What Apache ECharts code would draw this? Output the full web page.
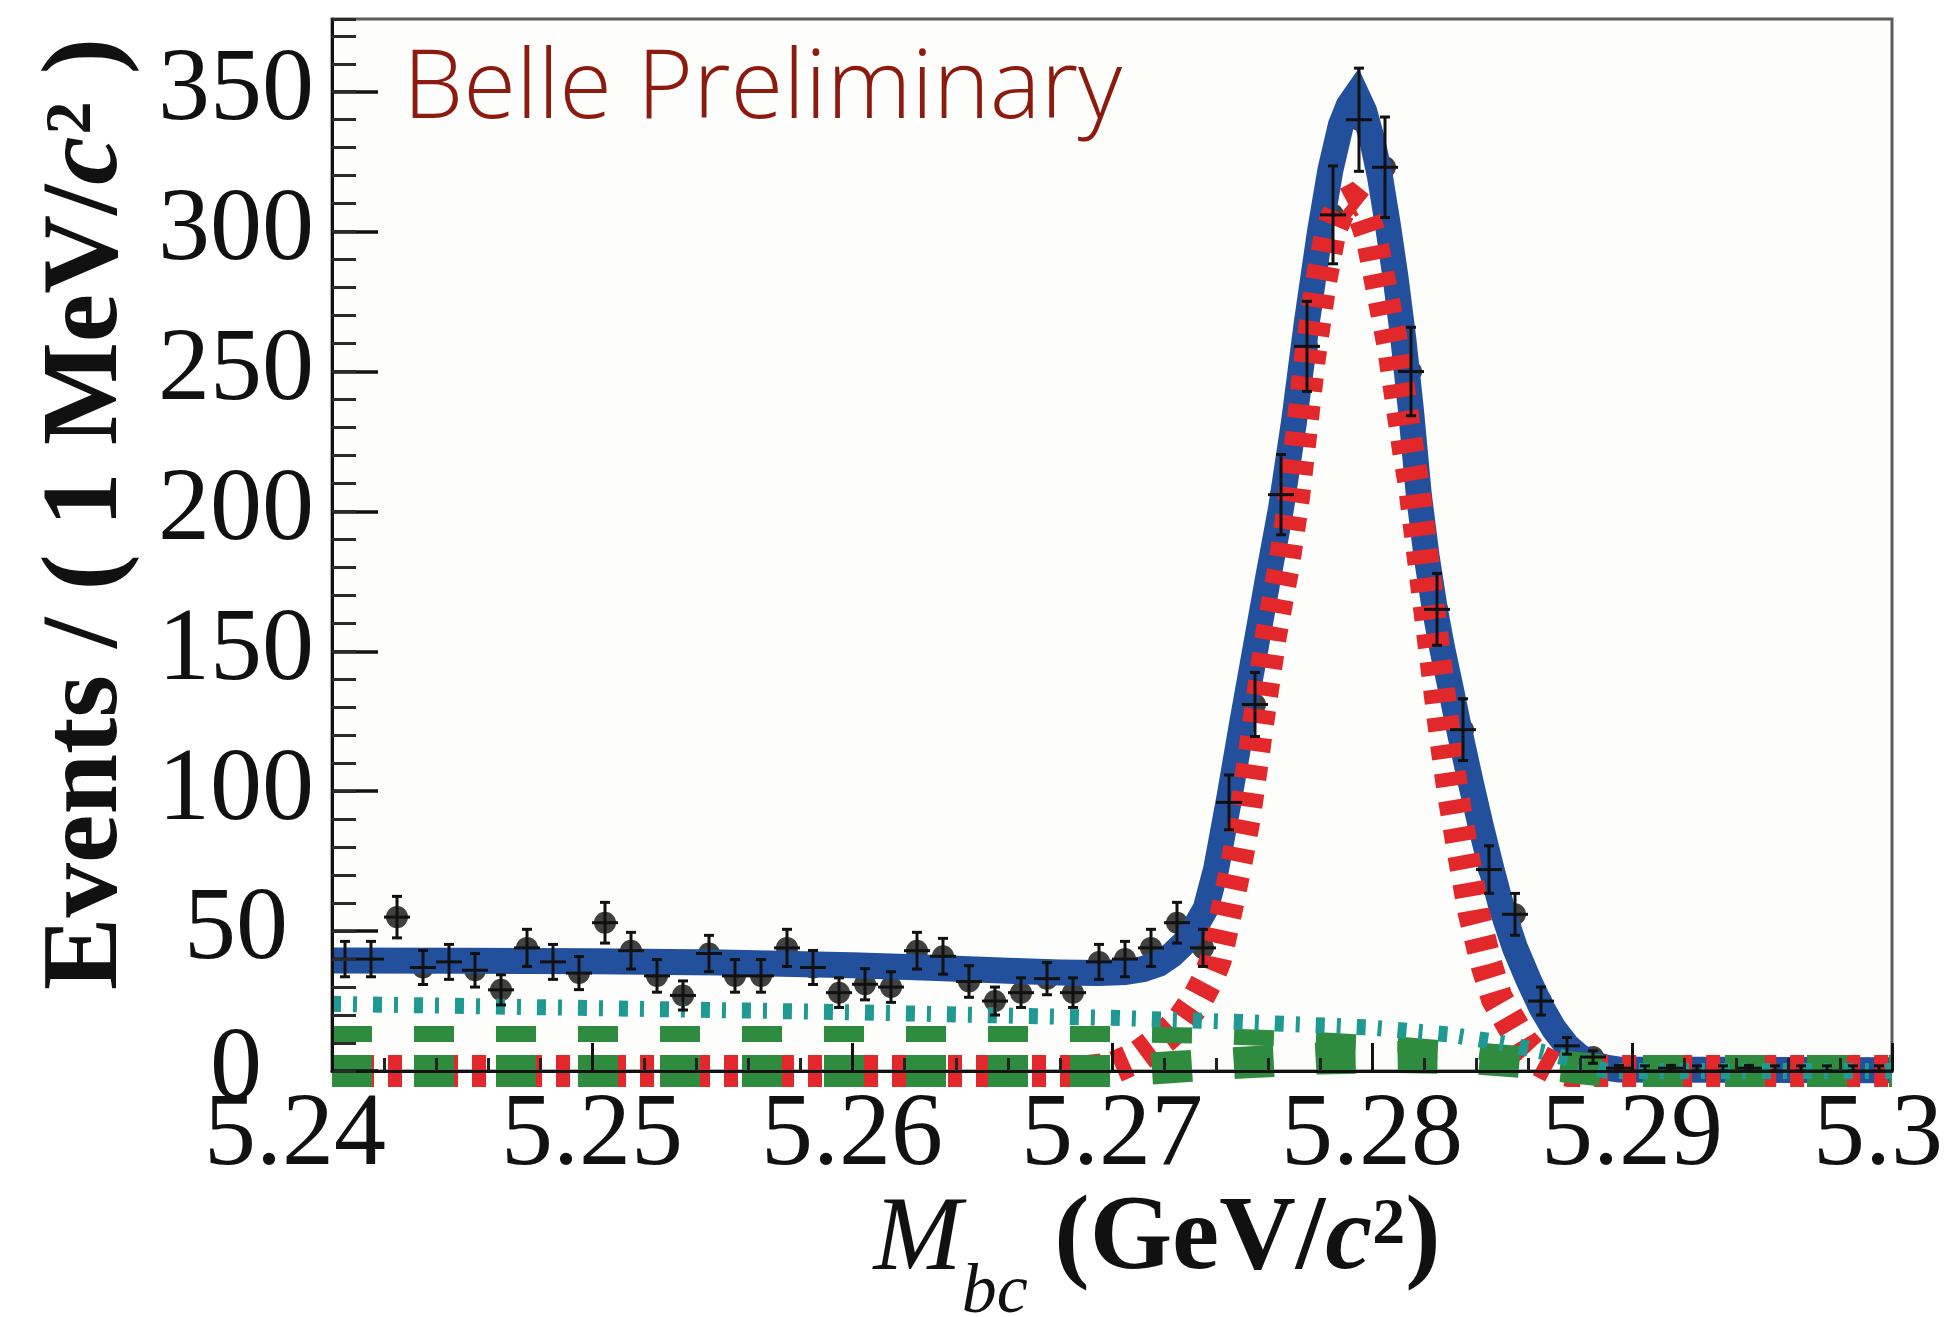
<!DOCTYPE html>
<html>
<head>
<meta charset="utf-8">
<title>M_bc distribution with fit</title>
<script src="https://cdn.jsdelivr.net/npm/echarts@6/dist/echarts.min.js"></script>
<style>
  html, body { margin: 0; padding: 0; background: #ffffff; }
  #chart { width: 1950px; height: 1317px; }
</style>
</head>
<body>
<div id="chart"></div>
<script>
// ---- data ----------------------------------------------------------
// 1 MeV/c^2 bins from 5.24 to 5.30 GeV/c^2 (bin centres)
const binCentres = [
  5.2405, 5.2415, 5.2425, 5.2435, 5.2445, 5.2455, 5.2465, 5.2475, 5.2485, 5.2495,
  5.2505, 5.2515, 5.2525, 5.2535, 5.2545, 5.2555, 5.2565, 5.2575, 5.2585, 5.2595,
  5.2605, 5.2615, 5.2625, 5.2635, 5.2645, 5.2655, 5.2665, 5.2675, 5.2685, 5.2695,
  5.2705, 5.2715, 5.2725, 5.2735, 5.2745, 5.2755, 5.2765, 5.2775, 5.2785, 5.2795,
  5.2805, 5.2815, 5.2825, 5.2835, 5.2845, 5.2855, 5.2865, 5.2875, 5.2885, 5.2895,
  5.2905, 5.2915, 5.2925, 5.2935, 5.2945, 5.2955, 5.2965, 5.2975, 5.2985, 5.2995
];
const binHalfWidth = 0.0005;

// events per bin
const eventCounts = [
  40, 40, 55, 37, 39, 36, 29, 44, 39, 35,
  53, 43, 34, 27, 42, 34, 34, 44, 37, 28,
  31, 30, 43, 41, 32, 25, 28, 33, 28, 39,
  40, 44, 53, 44, 96, 131, 206, 259, 306, 340,
  323, 250, 165, 122, 72, 56, 25, 9, 5, 1,
  0, 1, 0, 0, 1, 0, 0, 0, 0, 0
];

const xTickLabels = ['5.24', '5.25', '5.26', '5.27', '5.28', '5.29', '5.3'];
const yTickLabels = ['0', '50', '100', '150', '200', '250', '300', '350'];

// total fit, [M_bc, events]
const totalFit = [
  [5.2400, 39.5], [5.2450, 39.4], [5.2500, 39.2], [5.2550, 38.8], [5.2600, 37.8],
  [5.2630, 36.9], [5.2660, 35.8], [5.2680, 35.2], [5.2695, 35.0], [5.2705, 35.4],
  [5.2712, 36.4], [5.2718, 38.3], [5.2723, 41.5], [5.2728, 46], [5.2732, 51.5],
  [5.2736, 58], [5.2740, 72], [5.2745, 97], [5.2750, 124], [5.2755, 150],
  [5.2760, 176], [5.2765, 201], [5.2770, 232], [5.2775, 268], [5.2780, 300],
  [5.2784, 322], [5.2788, 338], [5.2791, 345], [5.2794, 349], [5.2797, 343],
  [5.2800, 333], [5.2803, 320], [5.2806, 303], [5.2809, 284], [5.2812, 262],
  [5.2815, 236], [5.2818, 206], [5.2821, 184], [5.2824, 166], [5.2827, 151],
  [5.2830, 138], [5.2834, 120], [5.2838, 103], [5.2842, 87], [5.2846, 72],
  [5.2850, 58], [5.2855, 44], [5.2860, 33], [5.2865, 23], [5.2870, 15],
  [5.2875, 9], [5.2880, 5], [5.2885, 2.5], [5.2890, 1.2], [5.2895, 0.5], [5.3000, 0.3]
];

// signal component
const signalFit = [
  [5.2400, 0], [5.2690, 0], [5.2700, 1], [5.2710, 5], [5.2720, 12],
  [5.2727, 18], [5.2733, 26], [5.2737, 33], [5.2740, 40], [5.2744, 57],
  [5.2748, 75], [5.2751, 90], [5.2756, 123], [5.2761, 155], [5.2766, 180],
  [5.2770, 205], [5.2776, 254], [5.2780, 280], [5.2784, 300], [5.2788, 309],
  [5.2792, 311], [5.2796, 308], [5.2800, 297], [5.2804, 278], [5.2808, 259],
  [5.2811, 240], [5.2814, 221], [5.2816, 210], [5.2820, 180], [5.2824, 150],
  [5.2828, 120], [5.2831, 100], [5.2835, 78], [5.2839, 57], [5.2844, 38],
  [5.2848, 26], [5.2853, 18], [5.2858, 10], [5.2864, 4], [5.2870, 1],
  [5.2876, 0], [5.3000, 0]
];

// continuum background component
const continuumBkg = [
  [5.2400, 24], [5.2500, 22.5], [5.2600, 21], [5.2700, 19], [5.2750, 17.5],
  [5.2800, 15.5], [5.2830, 13], [5.2850, 10], [5.2865, 7], [5.2877, 4],
  [5.2885, 1.5], [5.2890, 0], [5.3000, 0]
];

// B-Bbar background components
const bbBkgUpper = [
  [5.2400, 13.2], [5.2700, 13.2], [5.2740, 12.5], [5.2780, 11], [5.2810, 9.5],
  [5.2840, 7], [5.2860, 4.5], [5.2875, 2], [5.2885, 0.5], [5.2890, 0], [5.3000, 0]
];
const bbBkgLower = [
  [5.2400, 0], [5.2700, 0], [5.2725, 1.5], [5.2750, 3], [5.2780, 4.5],
  [5.2810, 5], [5.2840, 4.5], [5.2860, 3], [5.2875, 1.5], [5.2890, 0], [5.3000, 0]
];

// ---- chart ---------------------------------------------------------
const serif = "'Liberation Serif', 'Times New Roman', 'DejaVu Serif', serif";
const chart = echarts.init(document.getElementById('chart'), null, { renderer: 'canvas' });

const pointData = binCentres.map((m, i) => [m, eventCounts[i]]);
const errorData = binCentres.map((m, i) => {
  const n = eventCounts[i];
  const lo = n > 0 ? n - Math.sqrt(n) : 0;
  const hi = n > 0 ? n + Math.sqrt(n) : 1.84;
  return [m, n, lo, hi];
});

function curve(name, data, color, width, dash, z) {
  return {
    name, type: 'line', data, z,
    showSymbol: false, symbol: 'none', smooth: false, clip: false,
    silent: true, animation: false,
    lineStyle: { color, width, type: dash || 'solid', cap: 'butt', join: 'miter', miterLimit: 20 }
  };
}

const labelFont = { fontFamily: serif, fontSize: 104, color: '#111' };

const option = {
  backgroundColor: '#ffffff',
  animation: false,
  grid: {
    left: 332, top: 19, right: 58, bottom: 246,
    containLabel: false, outerBoundsMode: 'none',
    show: true, backgroundColor: '#fdfdfb', borderColor: '#5c5c5c', borderWidth: 3
  },
  xAxis: {
    type: 'value', min: 5.24, max: 5.30, interval: 0.01, z: 8,
    axisLine: { show: true, onZero: false, lineStyle: { color: '#111', width: 3 } },
    axisTick: { show: true, inside: true, length: 28, lineStyle: { color: '#111', width: 3 } },
    minorTick: { show: true, splitNumber: 5, length: 13, lineStyle: { color: '#222', width: 3 } },
    splitLine: { show: false },
    axisLabel: {
      show: true, margin: 14, color: '#111', fontFamily: serif, fontSize: 104,
      formatter: v => {
        const i = Math.round((v - 5.24) / 0.01);
        if (i === 0) return '{first|' + xTickLabels[i] + '}';
        if (i === xTickLabels.length - 1) return '{last|' + xTickLabels[i] + '}';
        return xTickLabels[i];
      },
      rich: {
        first: Object.assign({ padding: [0, 74, 0, 0] }, labelFont),
        last: Object.assign({ padding: [0, 28, 0, 0] }, labelFont)
      }
    }
  },
  yAxis: [
    {
      type: 'value', min: 0, max: 376, interval: 50, position: 'left', z: 8,
      axisLine: { show: true, onZero: false, lineStyle: { color: '#111', width: 3 } },
      axisTick: { show: true, inside: true, length: 46, lineStyle: { color: '#111', width: 3.5 } },
      splitLine: { show: false },
      axisLabel: {
        show: true, margin: 96, align: 'center', color: '#111', fontFamily: serif, fontSize: 104,
        showMaxLabel: false,
        formatter: v => yTickLabels[Math.round(v / 50)]
      }
    },
    {
      type: 'value', min: 0, max: 376, interval: 10, position: 'left', z: 8,
      axisLine: { show: false },
      axisTick: { show: true, inside: true, length: 24, lineStyle: { color: '#2a2a2a', width: 3 } },
      splitLine: { show: false },
      axisLabel: { show: false }
    }
  ],
  series: [
    {
      name: 'data', type: 'scatter', data: pointData, z: 1,
      symbol: 'circle', symbolSize: 22, silent: true,
      itemStyle: { color: '#111' }
    },
    curve('total', totalFit, '#22509d', 26, 'solid', 2),
    curve('signal', signalFit, '#e2282b', 32, [14, 14], 3),
    curve('bb-lower', bbBkgLower, '#2f8c3e', 32, [40, 42], 4),
    curve('bb-upper', bbBkgUpper, '#2f8c3e', 16, [40, 42], 4),
    curve('continuum', continuumBkg, '#1f9a92', 16, [9, 12, 4, 16], 5),
    {
      name: 'errors', type: 'custom', data: errorData, z: 6, silent: true,
      encode: { x: 0, y: 1 },
      renderItem: function (params, api) {
        const m = api.value(0), n = api.value(1), lo = api.value(2), hi = api.value(3);
        const c = api.coord([m, n]);
        const l = api.coord([m - binHalfWidth, n]);
        const r = api.coord([m + binHalfWidth, n]);
        const t = api.coord([m, hi]);
        const b = api.coord([m, lo]);
        const cap = 5;
        const style = { stroke: '#111', lineWidth: 3, fill: null };
        return {
          type: 'group',
          children: [
            { type: 'line', shape: { x1: l[0], y1: c[1], x2: r[0], y2: c[1] }, style },
            { type: 'line', shape: { x1: c[0], y1: t[1], x2: c[0], y2: b[1] }, style },
            { type: 'line', shape: { x1: c[0] - cap, y1: t[1], x2: c[0] + cap, y2: t[1] }, style },
            { type: 'line', shape: { x1: c[0] - cap, y1: b[1], x2: c[0] + cap, y2: b[1] }, style }
          ]
        };
      }
    }
  ],
  graphic: [
    {
      type: 'text', z: 20, x: 403, y: 91,
      style: {
        text: 'Belle Preliminary',
        fill: '#8c1a0f', fontFamily: "'Open Sans', 'Noto Sans', sans-serif",
        fontWeight: 300, fontSize: 96,
        align: 'left', verticalAlign: 'middle', textAlign: 'left', textVerticalAlign: 'middle'
      }
    },
    {
      type: 'text', z: 20, x: 88, y: 514, rotation: Math.PI / 2,
      style: {
        text: '{b|Events / ( 1 MeV/}{bi|c}{sup|2}{b| )}',
        fill: '#111',
        align: 'center', verticalAlign: 'middle', textAlign: 'center', textVerticalAlign: 'middle',
        rich: {
          b: { fontFamily: serif, fontWeight: 'bold', fontSize: 109, lineHeight: 200, fill: '#111' },
          bi: { fontFamily: serif, fontWeight: 'bold', fontStyle: 'italic', fontSize: 109, lineHeight: 200, fill: '#111' },
          sup: { fontFamily: serif, fontWeight: 'bold', fontSize: 66, lineHeight: 200, verticalAlign: 'top', padding: [52, 0, 0, 2], fill: '#111' }
        }
      }
    },
    {
      type: 'text', z: 20, x: 1157, y: 1241,
      style: {
        text: '{i|M}{sub|bc}{b| (GeV/}{bi|c}{sup|2}{b|)}',
        fill: '#111',
        align: 'center', verticalAlign: 'middle', textAlign: 'center', textVerticalAlign: 'middle',
        rich: {
          i: { fontFamily: serif, fontStyle: 'italic', fontSize: 106, lineHeight: 200, fill: '#111' },
          sub: { fontFamily: serif, fontStyle: 'italic', fontSize: 70, lineHeight: 200, verticalAlign: 'top', padding: [118, 0, 0, 0], fill: '#111' },
          b: { fontFamily: serif, fontWeight: 'bold', fontSize: 106, lineHeight: 200, fill: '#111' },
          bi: { fontFamily: serif, fontWeight: 'bold', fontStyle: 'italic', fontSize: 106, lineHeight: 200, fill: '#111' },
          sup: { fontFamily: serif, fontWeight: 'bold', fontSize: 66, lineHeight: 200, verticalAlign: 'top', padding: [52, 0, 0, 0], fill: '#111' }
        }
      }
    }
  ]
};

chart.setOption(option);
</script>
</body>
</html>
